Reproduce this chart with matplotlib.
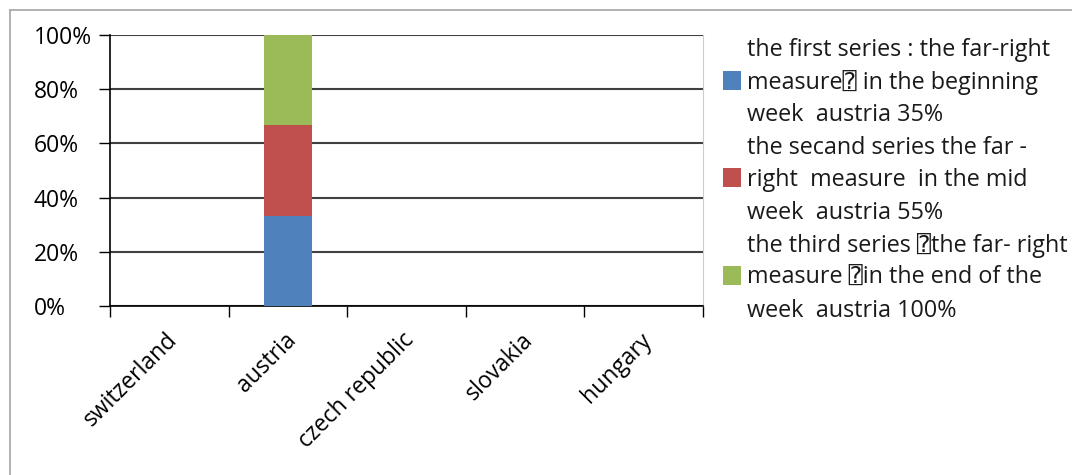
import numpy as np
import matplotlib.pyplot as plt
from matplotlib.patches import Rectangle
from matplotlib.lines import Line2D
from matplotlib.transforms import ScaledTranslation

countries = ['switzerland', 'austria', 'czech republic', 'slovakia', 'hungary']
first_series = [0, 1, 0, 0, 0]
second_series = [0, 1, 0, 0, 0]
third_series = [0, 1, 0, 0, 0]
series_labels = [
    ['the first series : the far-right', 'measure\u2370 in the beginning', 'week  austria 35%'],
    ['the secand series the far -', 'right  measure  in the mid', 'week  austria 55%'],
    ['the third series \u2370the far- right', 'measure \u2370in the end of the', 'week  austria 100%'],
]
colors = ['#4F81BD', '#C0504D', '#9BBB59']

plt.rcParams['font.family'] = ['Open Sans', 'DejaVu Sans', 'DejaVu Sans Mono']

W, H = 1072, 475

# 100% stacked: convert raw values to shares per country
raw = np.array([first_series, second_series, third_series], dtype=float)
totals = raw.sum(axis=0)
shares = np.divide(raw, totals, out=np.zeros_like(raw), where=totals > 0) * 100

fig = plt.figure(figsize=(W / 100, H / 100), dpi=100)
ax = fig.add_axes([110 / W, 1 - 306 / H, 593 / W, 271 / H])

x = np.arange(len(countries))
bottom = np.zeros(len(countries))
for vals, c in zip(shares, colors):
    ax.bar(x, vals, bottom=bottom, width=0.4, color=c, zorder=3)
    bottom += vals

ax.set_xlim(-0.5, len(countries) - 0.5)
ax.set_ylim(0, 100)
ax.set_yticks(np.arange(0, 101, 20))
# y labels sit left-aligned in a column, like the spreadsheet original
ax.set_yticklabels([f'{v}%' for v in range(0, 101, 20)], fontsize=16.5, ha='left')
ax.yaxis.grid(True, color='#404040', linewidth=1.5, zorder=1)
ax.tick_params(axis='y', length=8, width=1, direction='out', pad=47, colors='black')

ax.set_xticks(x)
ax.set_xticklabels(countries, rotation=45, ha='right', rotation_mode='anchor', fontsize=16.5)
ax.tick_params(axis='x', which='major', length=0, pad=16)
shift = ScaledTranslation(-4 / 100, 0, fig.dpi_scale_trans)
for lbl in ax.get_xticklabels():
    lbl.set_transform(lbl.get_transform() + shift)
ax.set_xticks(np.arange(-0.5, len(countries)), minor=True)
ax.tick_params(axis='x', which='minor', length=8, width=1, direction='out')

ax.spines['top'].set_visible(False)
ax.spines['right'].set_color('#cccccc')
ax.spines['left'].set_linewidth(1.2)
ax.spines['bottom'].set_linewidth(1.2)
ax.set_axisbelow(True)

# legend: three-line entries, swatch beside the middle line
line_step = 32.6
first_baseline = 56
for i, (lines, c) in enumerate(zip(series_labels, colors)):
    for j, txt in enumerate(lines):
        base = first_baseline + (i * 3 + j) * line_step
        fig.text(747 / W, 1 - base / H, txt, fontsize=16.8, va='baseline', ha='left', color='#1a1a1a')
    mid = first_baseline + (i * 3 + 1) * line_step
    fig.add_artist(Rectangle((723 / W, 1 - (mid + 1) / H), 18 / W, 19 / H,
                             transform=fig.transFigure, facecolor=c, edgecolor='none'))

# outer chart frame
fig.add_artist(Line2D([10 / W, 10 / W], [0, 1 - 10 / H], color='#a6a6a6', linewidth=1.2))
fig.add_artist(Line2D([10 / W, 1], [1 - 10 / H, 1 - 10 / H], color='#a6a6a6', linewidth=1.2))

fig.savefig('out.png', dpi=100)
